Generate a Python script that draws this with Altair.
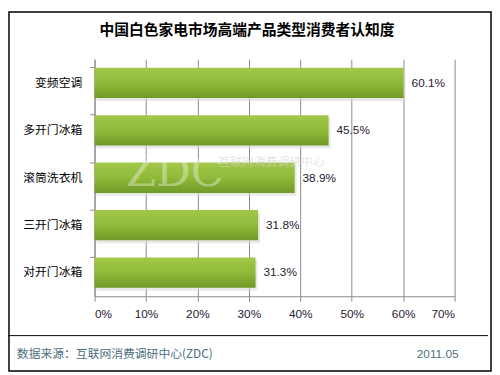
import altair as alt
import pandas as pd

categories = ["变频空调", "多开门冰箱", "滚筒洗衣机", "三开门冰箱", "对开门冰箱"]
values = [60.1, 45.5, 38.9, 31.8, 31.3]
x_ticks = [0, 10, 20, 30, 40, 50, 60, 70]

df = pd.DataFrame({"cat": categories, "val": values,
                   "lab": [f"{v:.1f}%" for v in values]})

W, H = 366, 241
PL, PT = 88, 49
PR = 492 - PL - W
PB = 367 - PT - H

xs = alt.Scale(domain=[0, 70], nice=False, zero=True)
ys = alt.Scale(domain=categories, paddingInner=0.36, paddingOuter=0.18)

grad = alt.LinearGradient(
    gradient="linear", x1=0, x2=0, y1=0, y2=1,
    stops=[alt.GradientStop(color="#a2c84a", offset=0),
           alt.GradientStop(color="#8fba38", offset=0.5),
           alt.GradientStop(color="#6f9a28", offset=1)])

base = alt.Chart(df)

shadow = base.mark_bar(color="#d8d8d8", opacity=0.6, yOffset=3, xOffset=2).encode(
    x=alt.X("val:Q", scale=xs),
    y=alt.Y("cat:N", scale=ys),
)

bars = base.mark_bar(color=grad).encode(
    x=alt.X("val:Q", scale=xs,
            axis=alt.Axis(values=x_ticks, labelExpr="datum.value + '%'",
                          title=None, grid=True, gridColor="#8a8a8a",
                          domainColor="#8a8a8a", tickColor="#8a8a8a",
                          tickSize=5, labelPadding=8, labelFontSize=12,
                          labelColor="#2a2035", labelFont="Liberation Sans")),
    y=alt.Y("cat:N", scale=ys, sort=categories,
            axis=alt.Axis(title=None, bandPosition=0, domainColor="#8a8a8a",
                          tickColor="#8a8a8a", tickSize=5, labelPadding=8,
                          labelFontSize=12, labelColor="#000000",
                          labelFont="Noto Sans CJK SC")),
)

labels = base.mark_text(align="left", dx=8, fontSize=12, color="#2a2035",
                        font="Liberation Sans").encode(
    x=alt.X("val:Q", scale=xs),
    y=alt.Y("cat:N", scale=ys),
    text="lab:N",
)

wm1 = alt.Chart(pd.DataFrame({"t": ["ZDC"]})).mark_text(
    align="left", baseline="middle", fontSize=44, font="DejaVu Serif",
    color="#ffffff", opacity=0.35).encode(
    x=alt.value(128 - 96), y=alt.value(173 - 57), text="t:N")
wm2 = alt.Chart(pd.DataFrame({"t": ["互联网消费调研中心"]})).mark_text(
    align="left", baseline="middle", fontSize=12, font="Noto Sans CJK SC",
    color="#d4d4d4", opacity=0.6).encode(
    x=alt.value(222 - 96), y=alt.value(162 - 57), text="t:N")

title = alt.Chart(pd.DataFrame({"t": ["中国白色家电市场高端产品类型消费者认知度"]})).mark_text(
    align="center", baseline="middle", fontSize=15, fontWeight="bold",
    font="Noto Sans CJK SC", color="#000000").encode(
    x=alt.value(251 - 96), y=alt.value(27 - 57), text="t:N")

footer_line = alt.Chart(pd.DataFrame({"a": [0]})).mark_rule(
    color="#000000", strokeWidth=1).encode(
    x=alt.value(4 - 96), x2=alt.value(496 - 96), y=alt.value(338 - 57))

src = alt.Chart(pd.DataFrame({"t": ["数据来源：互联网消费调研中心(ZDC)"]})).mark_text(
    align="left", baseline="middle", fontSize=12, font="Noto Sans CJK SC",
    color="#4b6e80").encode(
    x=alt.value(17 - 96), y=alt.value(357 - 57), text="t:N")

date = alt.Chart(pd.DataFrame({"t": ["2011.05"]})).mark_text(
    align="right", baseline="middle", fontSize=12, font="Liberation Sans",
    color="#4b6e80").encode(
    x=alt.value(466 - 96), y=alt.value(357 - 57), text="t:N")

border = alt.Chart(pd.DataFrame({"a": [0]})).mark_rect(
    fill=None, stroke="#000000", strokeWidth=1.5).encode(
    x=alt.value(1 - 88), x2=alt.value(491 - 88),
    y=alt.value(1 - 49), y2=alt.value(366 - 49))

chart = alt.layer(shadow, bars, wm1, wm2, labels, title, footer_line, src, date, border).properties(
    width=W, height=H,
    autosize=alt.AutoSizeParams(type="none"),
    padding={"left": PL, "top": PT, "right": PR, "bottom": PB},
    background="#ffffff",
).configure_view(stroke=None)

chart.save("out.html", embed_options={"renderer": "svg", "actions": False})
